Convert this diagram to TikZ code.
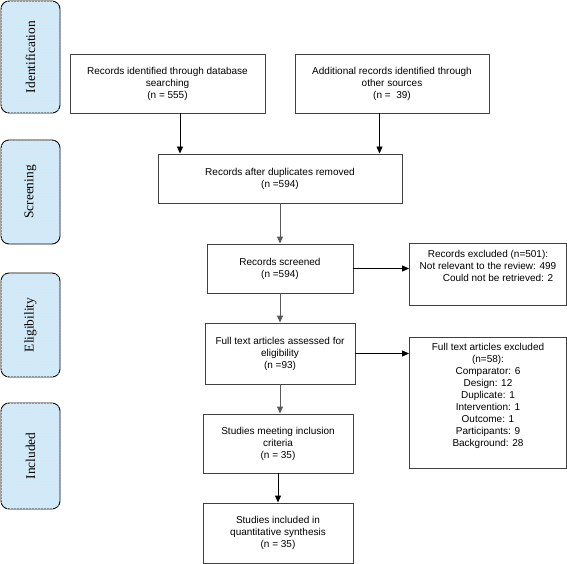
\documentclass[tikz,border=0pt]{standalone}
\usepackage{fontspec}
\setmainfont{Liberation Serif}
\setsansfont{Liberation Sans}
\usetikzlibrary{arrows.meta,patterns}

\definecolor{phasefill}{RGB}{208,236,252}
\tikzset{
  phase/.style={draw=black, line width=0.9pt, rounded corners=8pt, fill=phasefill,
    postaction={pattern=crosshatch dots, pattern color=gray!25},
    rotate=90, minimum height=59pt, inner sep=0pt, font=\fontsize{13.4}{15}\selectfont},
  box/.style={draw=black!75, line width=0.9pt, align=center, inner sep=0pt,
    font=\sffamily\fontsize{10}{12}\selectfont},
  arr/.style={line width=0.9pt, -{Triangle[length=7pt,width=6pt]}},
  grayarr/.style={arr, draw=black!65, fill=black!65},
}

\begin{document}
\begin{tikzpicture}[x=1pt,y=-1pt]
\useasboundingbox (0,0) rectangle (567,564);

% phases
\node[phase, minimum width=112pt] (ident) at (30.5,57) {Identification};
\node[phase, minimum width=104pt] (screen) at (30.5,192) {Screening};
\node[phase, minimum width=104pt] (elig) at (30.5,325) {Eligibility};
\node[phase, minimum width=106pt] (incl) at (30.5,456) {Included};

% boxes
\node[box, minimum width=195pt, minimum height=59pt] (dbrec) at (167.5,83.5) {Records identified through database\\searching\\(n = 555)};
\node[box, minimum width=194pt, minimum height=59pt] (other) at (392,83.5) {Additional records identified through\\other sources\\(n =\ \ 39)};
\node[box, minimum width=244pt, minimum height=49pt] (dup) at (280,178.5) {Records after duplicates removed\\(n =594)};
\node[box, minimum width=146pt, minimum height=49pt] (screened) at (280,268.5) {Records screened\\(n =594)};
\node[box, minimum width=150pt, minimum height=61pt] (full) at (280,353.5) {Full text articles assessed for\\eligibility\\(n =93)};
\node[box, minimum width=157pt, minimum height=62pt] (excl) at (488,274) {Records excluded (n=501):\\Not relevant to the review: 499\\\hspace*{20pt}Could not be retrieved: 2\\[4pt]};
\node[box, minimum width=157pt, minimum height=131pt] (fullexcl) at (488,402.5) {Full text articles excluded\\(n=58):\\Comparator: 6\\Design: 12\\Duplicate: 1\\Intervention: 1\\Outcome: 1\\Participants: 9\\Background: 28\\[4pt]};
\node[box, minimum width=150pt, minimum height=59pt] (meet) at (278,443.5) {Studies meeting inclusion\\criteria\\(n = 35)};
\node[box, minimum width=150pt, minimum height=60pt] (synth) at (278,533) {Studies included in\\quantitative synthesis\\(n = 35)};

% arrows
\coordinate (d1) at ([xshift=12.5pt]dbrec.south);
\coordinate (d2) at ([xshift=-12.5pt]other.south);
\draw[arr] (d1) -- (d1 |- dup.north);
\draw[arr] (d2) -- (d2 |- dup.north);
\draw[grayarr] (dup.south) -- (screened.north);
\draw[grayarr] (screened.south) -- (full.north);
\draw[arr] (screened.east) -- (screened.east -| excl.west);
\draw[arr] (full.east) -- (full.east -| fullexcl.west);
\draw[grayarr] (full.south) -- (full.south |- meet.north);
\draw[arr] (meet.south) -- (synth.north);
\end{tikzpicture}
\end{document}
